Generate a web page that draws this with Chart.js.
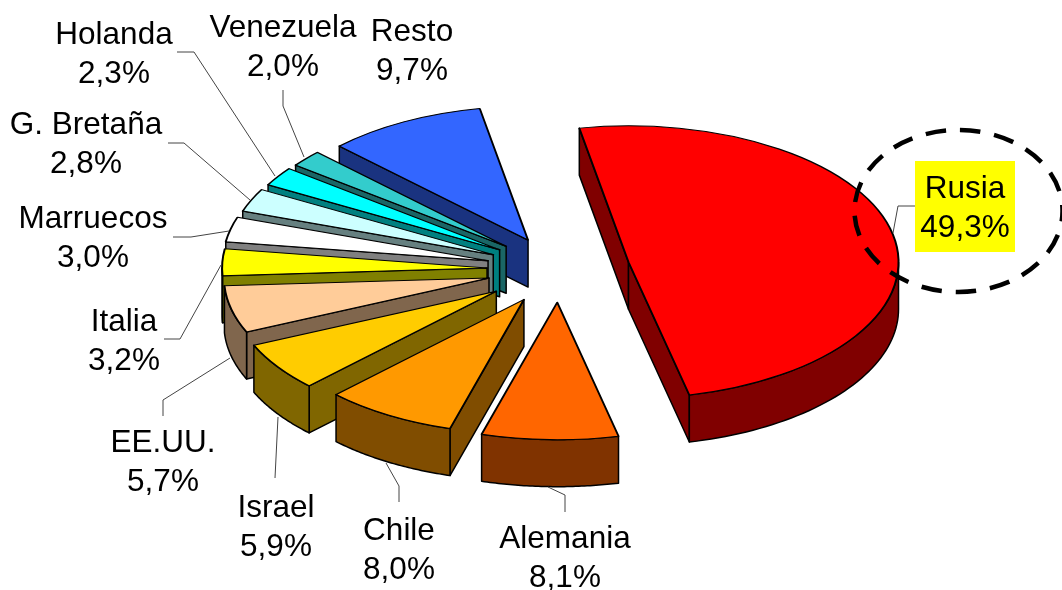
<!DOCTYPE html>
<html>
<head>
<meta charset="utf-8">
<style>
  html, body { margin: 0; padding: 0; background: #fff; }
  canvas { display: block; }
</style>
<script src="https://cdn.jsdelivr.net/npm/chart.js@4/dist/chart.umd.js"></script>
</head>
<body>
<canvas id="pie" width="1062" height="590"></canvas>
<script>
// clockwise from Rusia, percentages as printed on the labels
const countries = ['Rusia', 'Alemania', 'Chile', 'Israel', 'EE.UU.', 'Italia', 'Marruecos', 'G. Bretaña', 'Holanda', 'Venezuela', 'Resto'];
const shares = [49.3, 8.1, 8.0, 5.9, 5.7, 3.2, 3.0, 2.8, 2.3, 2.0, 9.7];
const top_colors = ['#ff0000', '#ff6600', '#ff9900', '#ffcc00', '#ffcc99', '#ffff00', '#ffffff', '#ccffff', '#00ffff', '#33cccc', '#3366ff'];
const side_colors = ['#800000', '#803300', '#804d00', '#806600', '#80664d', '#808000', '#808080', '#668080', '#008080', '#1a6666', '#1a3380'];

// how far each slice is pulled out of the pie, before the tilt
const explode = [71, 65, 69, 76, 72, 72, 73, 72, 71, 70, 66];
// the original has some perspective, so near slices come out a bit bigger
const slice_radius = [270, 272, 266, 265, 265, 265, 265, 265, 265, 265, 265];

// label block centre x, first line baseline y
const label_pos = [[965, 198], [565, 548], [399, 540], [276, 517], [163, 452], [124, 331], [93, 228], [86, 134], [114, 44], [283, 37], [412, 41]];

// leader lines, label end first
const leaders = [
  [[915, 206], [898, 206], [893, 233]],
  [[565, 512], [565, 495], [548, 487]],
  [[399, 502], [399, 486], [386, 463]],
  [[275, 478], [278, 417]],
  [[163, 416], [163, 400], [230, 358]],
  [[164, 339], [180, 339], [221, 265]],
  [[173, 237], [191, 237], [229, 231]],
  [[168, 143], [184, 143], [250, 200]],
  [[177, 52], [194, 52], [275, 176]],
  [[283, 90], [283, 106], [304, 157]]
];

const tilt = 0.505;
const depth = 47;
const font_size = 31.5;
const line_gap = 38.5;

// top of a slice on the screen, from its untilted position
function project(arc, cy, angle, r) {
  return {
    x: arc.x + Math.cos(angle) * r,
    y: cy + (arc.y - cy + Math.sin(angle) * r) * tilt
  };
}

function drawSides(ctx, arc, cy, color) {
  let { startAngle: a, endAngle: b, outerRadius: r } = arc;
  let apex = project(arc, cy, 0, 0);
  ctx.fillStyle = color;
  ctx.strokeStyle = '#000';
  ctx.lineWidth = 1.5;
  ctx.lineJoin = 'round';

  let cut = (angle) => {
    let p = project(arc, cy, angle, r);
    ctx.beginPath();
    ctx.moveTo(apex.x, apex.y);
    ctx.lineTo(p.x, p.y);
    ctx.lineTo(p.x, p.y + depth);
    ctx.lineTo(apex.x, apex.y + depth);
    ctx.closePath();
    ctx.fill();
    ctx.stroke();
  };
  if (-Math.cos(a) > 0) cut(a);
  if (Math.cos(b) > 0) cut(b);

  // rim, only the part that faces the viewer
  [0, Math.PI * 2].forEach((turn) => {
    let from = Math.max(a, turn);
    let to = Math.min(b, turn + Math.PI);
    if (to <= from) return;
    let pts = [];
    for (let i = 0; i <= 48; i++) pts.push(project(arc, cy, from + (to - from) * i / 48, r));
    ctx.beginPath();
    pts.forEach((p, i) => i ? ctx.lineTo(p.x, p.y) : ctx.moveTo(p.x, p.y));
    pts.slice().reverse().forEach((p) => ctx.lineTo(p.x, p.y + depth));
    ctx.closePath();
    ctx.fill();
    ctx.stroke();
  });
}

const tiltedPie = {
  id: 'tiltedPie',
  afterDatasetsUpdate(chart) {
    chart.getDatasetMeta(0).data.forEach((arc, i) => {
      let mid = (arc.startAngle + arc.endAngle) / 2;
      arc.x += Math.cos(mid) * explode[i];
      arc.y += Math.sin(mid) * explode[i];
      arc.outerRadius = slice_radius[i];
    });
  },
  beforeDatasetDraw(chart) {
    let ctx = chart.ctx;
    let area = chart.chartArea;
    let cy = (area.top + area.bottom) / 2;
    let arcs = chart.getDatasetMeta(0).data;
    // back to front, Resto is furthest away and Alemania nearest
    for (let i = arcs.length - 1; i >= 0; i--) {
      drawSides(ctx, arcs[i], cy, side_colors[i]);
      ctx.save();
      ctx.translate(0, cy);
      ctx.scale(1, tilt);
      ctx.translate(0, -cy);
      arcs[i].draw(ctx, area);
      ctx.restore();
    }
    return false;
  },
  afterDraw(chart) {
    let ctx = chart.ctx;
    ctx.save();

    // dashed ring round the Rusia label
    ctx.beginPath();
    ctx.ellipse(958.5, 211, 104, 81, 0, 0, Math.PI * 2);
    ctx.strokeStyle = '#000';
    ctx.lineWidth = 4.5;
    ctx.setLineDash([20.5, 14]);
    ctx.lineDashOffset = 10;
    ctx.stroke();
    ctx.setLineDash([]);

    ctx.strokeStyle = '#444';
    ctx.lineWidth = 1;
    leaders.forEach((line) => {
      ctx.beginPath();
      line.forEach((p, i) => i ? ctx.lineTo(p[0], p[1]) : ctx.moveTo(p[0], p[1]));
      ctx.stroke();
    });

    ctx.fillStyle = '#ffff00';
    ctx.fillRect(915, 161, 100, 91);

    ctx.fillStyle = '#000';
    ctx.font = font_size + 'px "Liberation Sans"';
    ctx.textAlign = 'center';
    ctx.textBaseline = 'alphabetic';
    countries.forEach((name, i) => {
      let [x, y] = label_pos[i];
      ctx.fillText(name, x, y);
      ctx.fillText(shares[i].toFixed(1).replace('.', ',') + '%', x, y + line_gap);
    });
    ctx.restore();
  }
};

new Chart(document.getElementById('pie'), {
  type: 'pie',
  data: {
    labels: countries,
    datasets: [{
      data: shares,
      backgroundColor: top_colors,
      borderColor: '#000',
      borderWidth: 2,
      borderJoinStyle: 'round'
    }]
  },
  options: {
    responsive: false,
    animation: false,
    rotation: -10.5,
    layout: { padding: { left: 56, bottom: 51 } },
    plugins: { legend: { display: false }, tooltip: { enabled: false } }
  },
  plugins: [tiltedPie]
});
</script>
</body>
</html>
